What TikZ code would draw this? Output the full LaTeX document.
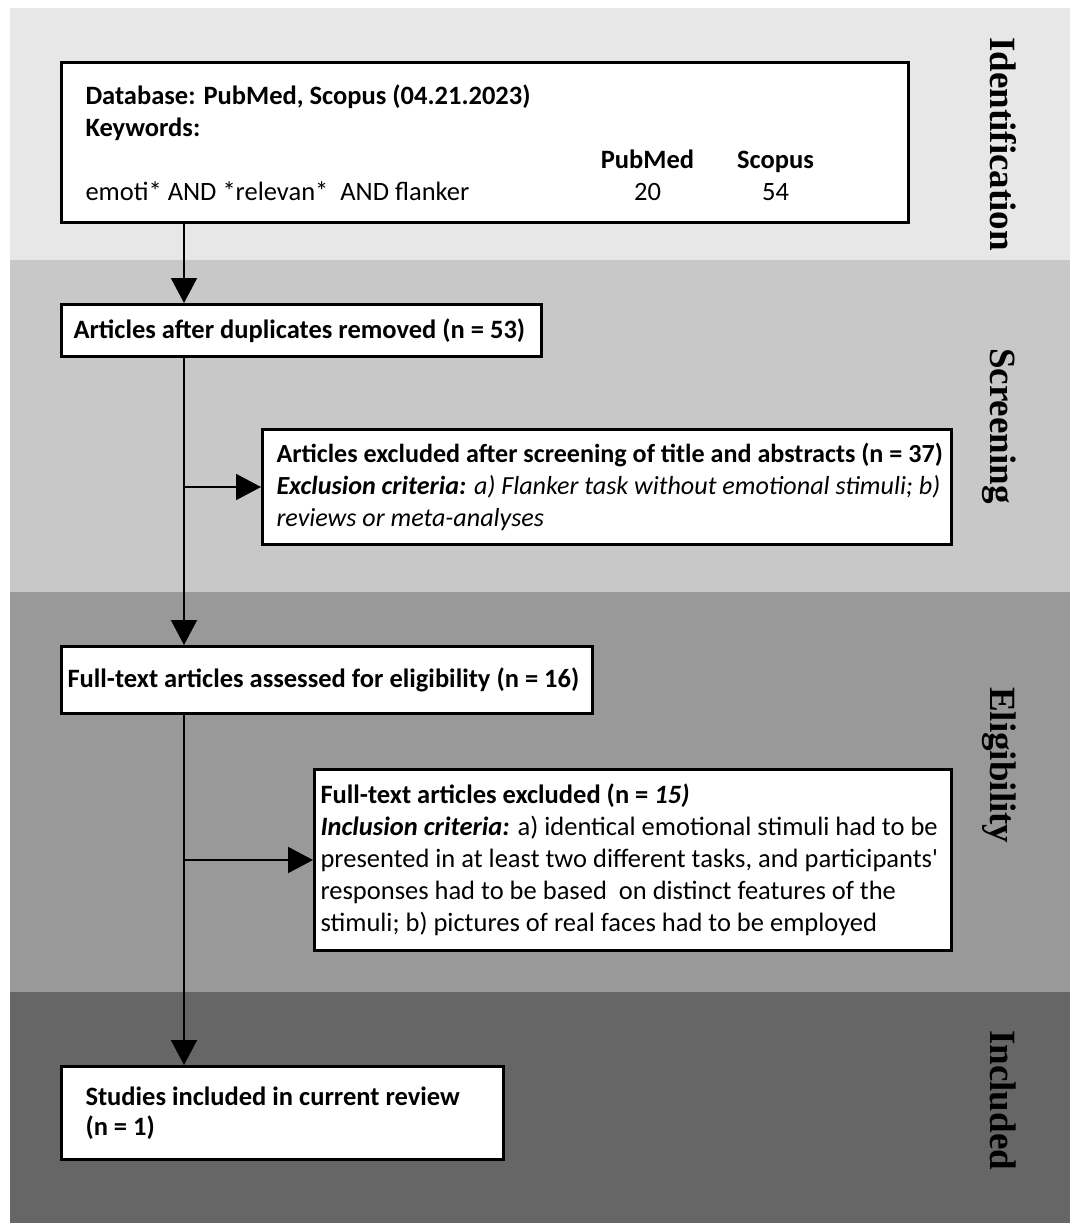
\documentclass[tikz,border=0pt]{standalone}
\usepackage{fontspec}
\setmainfont{Carlito}
\newfontfamily\straightfont{Carlito}
\newfontfamily\labelfont{Liberation Serif}
\usetikzlibrary{arrows.meta}
\definecolor{bandA}{RGB}{231,231,231}
\definecolor{bandB}{RGB}{200,200,200}
\definecolor{bandC}{RGB}{153,153,153}
\definecolor{bandD}{RGB}{102,102,102}
\newcommand\ind[1]{\hspace*{#1}}
\tikzset{
  pbox/.style={draw=black, line width=3pt, fill=white, anchor=north west,
    inner xsep=0pt, inner ysep=0pt, align=flush left,
    font=\fontsize{26.5}{32}\selectfont},
  arr/.style={line width=2pt, -{Triangle[length=25pt,width=26pt]}},
  phase/.style={font=\labelfont\bfseries\fontsize{37}{40}\selectfont,
    rotate=-90, anchor=base west, inner sep=0pt}
}
\begin{document}
\begin{tikzpicture}[x=1pt,y=-1pt]
\useasboundingbox (0,0) rectangle (1072,1225);
\fill[white] (0,0) rectangle (1072,1225);
\fill[bandA] (10,8) rectangle (1070,260);
\fill[bandB] (10,260) rectangle (1070,592);
\fill[bandC] (10,592) rectangle (1070,992);
\fill[bandD] (10,992) rectangle (1070,1223);

\node[phase] (lid) at (990,37) {Identification};
\node[phase] (lsc) at (990,348) {Screening};
\node[phase] (lel) at (990,687) {Eligibility};
\node[phase] (lin) at (990,1030) {Included};

\node[pbox, text width=847pt, minimum height=160pt] (b1) at (60,61) {%
\ind{24pt}\textbf{Database: PubMed, Scopus (04.21.2023)}\\
\ind{24pt}\textbf{Keywords:}\\
\ind{540pt}\makebox[92pt]{\textbf{PubMed}}\hspace{43pt}\makebox[78pt]{\textbf{Scopus}}\\
\ind{24pt}\makebox[516pt][l]{emoti* AND *relevan*\ \ AND flanker}\makebox[92pt]{20}\hspace{43pt}\makebox[78pt]{54}};

\node[pbox, text width=480pt, minimum height=52pt] (b2) at (60,303) {%
\ind{12pt}\textbf{Articles after duplicates removed (n = 53)}};

\node[pbox, text width=689pt, minimum height=115pt, font=\fontsize{26.1}{32}\selectfont] (b3) at (261,428) {%
\ind{14pt}\textbf{Articles excluded after screening of title and abstracts (n = 37)}\\
\ind{14pt}\textbf{\textit{Exclusion criteria:}} \textit{a) Flanker task without emotional stimuli; b)}\\
\ind{14pt}\textit{reviews or meta-analyses}};

\node[pbox, text width=531pt, minimum height=67pt] (b4) at (60,645) {%
\ind{6pt}\textbf{Full-text articles assessed for eligibility (n = 16)}};

\node[pbox, text width=637pt, minimum height=181pt] (b5) at (313,768) {%
\ind{6pt}\textbf{Full-text articles excluded (n = \textit{15)}}\\
\ind{6pt}\textbf{\textit{Inclusion criteria:}} a) identical emotional stimuli had to be\\
\ind{6pt}presented in at least two different tasks, and participants{\straightfont'}\\
\ind{6pt}responses had to be based\ \ on distinct features of the\\
\ind{6pt}stimuli; b) pictures of real faces had to be employed};

\node[pbox, text width=442pt, minimum height=93pt, font=\fontsize{26.5}{30}\selectfont] (b6) at (60,1065) {%
\ind{24pt}\textbf{Studies included in current review}\\
\ind{24pt}\textbf{(n = 1)}};

\coordinate (spine) at (184,0);
\draw[arr] (b1.south -| spine) -- (b2.north -| spine);
\draw[arr] (b2.south -| spine) -- (b4.north -| spine);
\draw[arr] (b4.south -| spine) -- (b6.north -| spine);
\draw[arr] (b3.west -| spine) -- (b3.west);
\draw[arr] (b5.west -| spine) -- (b5.west);
\end{tikzpicture}
\end{document}
